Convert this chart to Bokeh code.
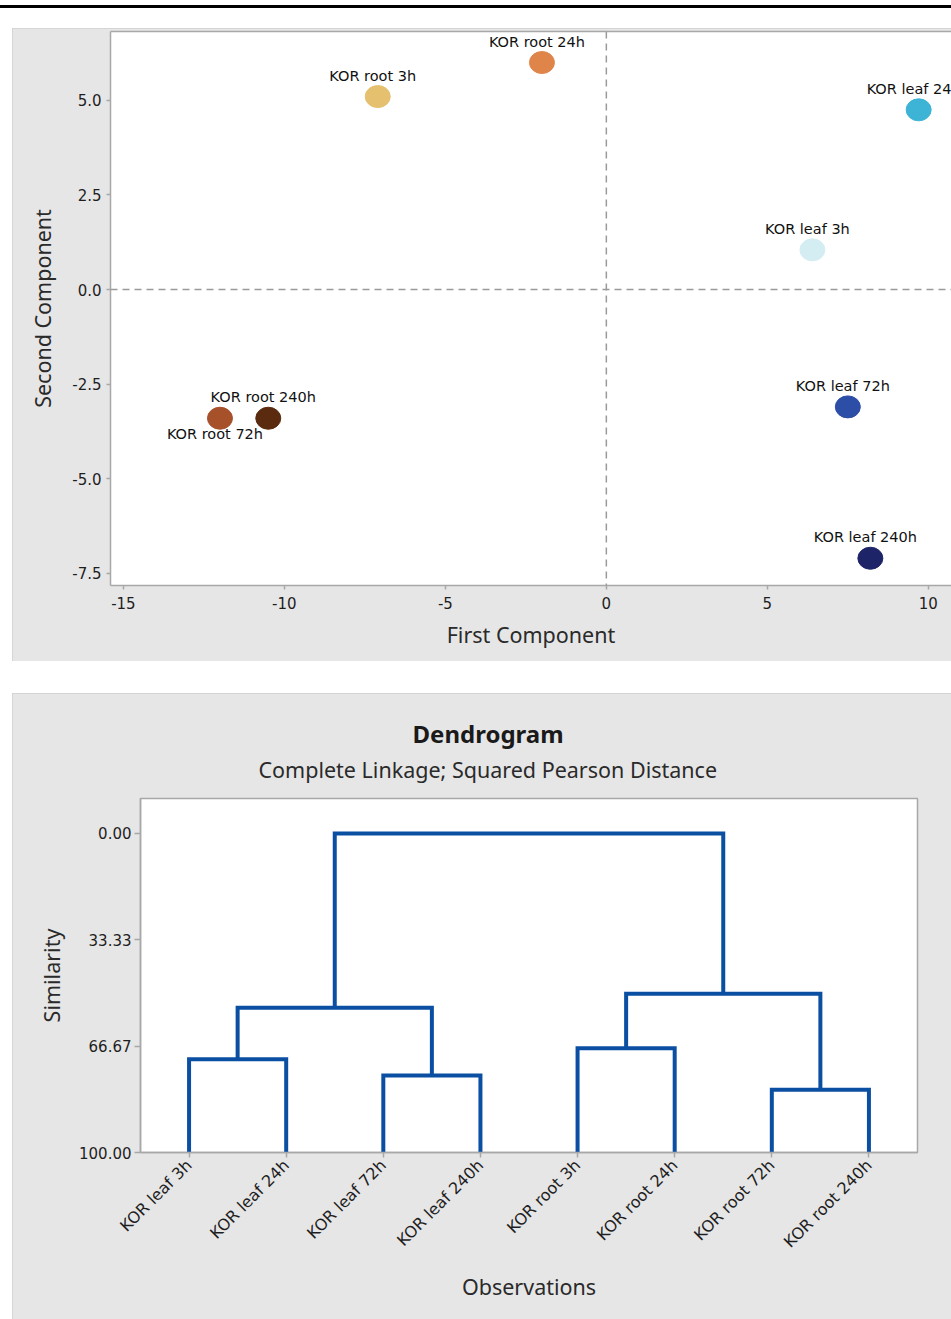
import math
from bokeh.plotting import figure
from bokeh.models import (ColumnDataSource, Span, FixedTicker, LinearAxis, Title,
                          Range1d, Div, Spacer, NumeralTickFormatter)
from bokeh.layouts import column, row
from bokeh.embed import file_html
from bokeh.resources import INLINE
from bokeh.core.properties import value

# ---------------- data: score plot ----------------
samples = ["KOR root 24h", "KOR root 3h", "KOR leaf 24h", "KOR leaf 3h",
           "KOR leaf 72h", "KOR leaf 240h", "KOR root 72h", "KOR root 240h"]
first_component = [-2.0, -7.1, 9.7, 6.4, 7.5, 8.2, -12.0, -10.5]
second_component = [6.0, 5.1, 4.75, 1.05, -3.1, -7.1, -3.4, -3.4]
sample_colors = ["#e0854a", "#e5c06e", "#3db3d6", "#d4edf3",
                 "#2d4ea6", "#1e2468", "#a6512a", "#5a2b0f"]
labels_below = ["KOR root 72h"]
x_ticks = [-15, -10, -5, 0, 5, 10]
y_ticks = [-7.5, -5.0, -2.5, 0.0, 2.5, 5.0]

# ---------------- data: dendrogram ----------------
observations = ["KOR leaf 3h", "KOR leaf 24h", "KOR leaf 72h", "KOR leaf 240h",
                "KOR root 3h", "KOR root 24h", "KOR root 72h", "KOR root 240h"]
merge_left = [0, 2, 4, 6, 8, 10, 12]
merge_right = [1, 3, 5, 7, 9, 11, 13]
merge_similarity = [70.8, 75.9, 67.3, 80.3, 54.6, 50.2, 0.0]
similarity_ticks = [0.0, 33.33, 66.67, 100.0]

PANEL = "#e6e6e6"
AX = "#a8a8a8"
TXT = "#1e1e1e"
TICKF = "DejaVu Sans"
LABF = "Noto Sans"


def style_axis(ax, tick_out=4, standoff=6, label_standoff=10, size="15px"):
    ax.axis_line_color = AX
    ax.axis_line_width = 1.5
    ax.major_tick_line_color = AX
    ax.major_tick_line_width = 1.5
    ax.major_tick_in = 0
    ax.major_tick_out = tick_out
    ax.minor_tick_line_color = None
    ax.major_label_standoff = standoff
    ax.major_label_text_font = TICKF
    ax.major_label_text_font_size = size
    ax.major_label_text_color = TXT
    ax.axis_label_standoff = label_standoff
    ax.axis_label_text_font = LABF
    ax.axis_label_text_font_size = "21.5px"
    ax.axis_label_text_font_style = "normal"
    ax.axis_label_text_color = "#2a2a2a"


# ================= score plot =================
p1 = figure(width=939, height=633,
            x_range=Range1d(-15.4, 10.72), y_range=Range1d(-7.82, 6.82),
            output_backend="svg", toolbar_location=None,
            background_fill_color="white", border_fill_color=PANEL,
            min_border_left=98, min_border_right=0, min_border_top=3, min_border_bottom=76,
            styles={"outline": "1px solid #cfcfcf", "outline-offset": "-1px"})
p1.frame_align = False
p1.outline_line_color = None
p1.grid.visible = False

style_axis(p1.xaxis[0], standoff=7, label_standoff=8)
style_axis(p1.yaxis[0], standoff=5, label_standoff=12)
p1.xaxis[0].ticker = FixedTicker(ticks=x_ticks)
p1.xaxis[0].formatter = NumeralTickFormatter(format="0")
p1.yaxis[0].ticker = FixedTicker(ticks=y_ticks)
p1.yaxis[0].formatter = NumeralTickFormatter(format="0.0")
p1.xaxis[0].axis_label = "First Component"
p1.yaxis[0].axis_label = "Second Component"

top_edge = LinearAxis(ticker=FixedTicker(ticks=[]), major_tick_out=0, major_tick_in=0,
                      minor_tick_out=0, minor_tick_in=0, major_label_standoff=0,
                      major_label_text_font_size="0px", axis_line_color=AX,
                      axis_line_width=1.5)
p1.add_layout(top_edge, "above")

p1.add_layout(Span(location=0, dimension="height", line_color="#9a9a9a",
                   line_dash="7 5", line_width=1.5))
p1.add_layout(Span(location=0, dimension="width", line_color="#9a9a9a",
                   line_dash="7 5", line_width=1.5))

pts = ColumnDataSource(dict(x=first_component, y=second_component, c=sample_colors, t=samples))
p1.ellipse("x", "y", source=pts, width=25, height=22, width_units="screen",
           height_units="screen", fill_color="c", line_color="c")

above_idx = [i for i, s in enumerate(samples) if s not in labels_below]
below_idx = [i for i, s in enumerate(samples) if s in labels_below]
for idx, yoff in ((above_idx, -21), (below_idx, 16)):
    src = ColumnDataSource(dict(x=[first_component[i] for i in idx],
                                y=[second_component[i] for i in idx],
                                t=[samples[i] for i in idx]))
    p1.text("x", "y", "t", source=src, text_align="center", text_baseline="middle",
            x_offset=-5, y_offset=yoff, text_font=value(TICKF),
            text_font_size="14.5px", text_color="#111111")

# ================= dendrogram =================
pos = {i: i + 1 for i in range(len(observations))}
hgt = {i: 100.0 for i in range(len(observations))}
xs, ys = [], []
for k, (a, b, s) in enumerate(zip(merge_left, merge_right, merge_similarity)):
    nid = len(observations) + k
    xs.append([pos[a], pos[a], pos[b], pos[b]])
    ys.append([hgt[a], s, s, hgt[b]])
    pos[nid] = (pos[a] + pos[b]) / 2
    hgt[nid] = s

p2 = figure(width=939, height=626,
            x_range=Range1d(0.5, 8.5), y_range=Range1d(100, -10.97),
            output_backend="svg", toolbar_location=None,
            background_fill_color="white", border_fill_color=PANEL,
            min_border_left=128, min_border_right=34, min_border_top=105, min_border_bottom=167,
            styles={"outline": "1px solid #cfcfcf", "outline-offset": "-1px"})
p2.frame_align = False
p2.outline_line_color = AX
p2.outline_line_width = 1.5
p2.grid.visible = False

p2.add_layout(Title(text=" ", text_font_size="2px", standoff=7), "above")
p2.add_layout(Title(text="Complete Linkage; Squared Pearson Distance", align="left",
                    offset=118, text_font=LABF, text_font_size="21.5px",
                    text_font_style="normal", text_color="#2a2a2a", standoff=8), "above")
p2.add_layout(Title(text="Dendrogram", align="left", offset=272, text_font=LABF,
                    text_font_size="24px", text_font_style="bold",
                    text_color="#1a1a1a", standoff=-2), "above")

style_axis(p2.xaxis[0], tick_out=5, standoff=5, label_standoff=11, size="16px")
style_axis(p2.yaxis[0], tick_out=6, standoff=3, label_standoff=10, size="15px")
p2.xaxis[0].ticker = FixedTicker(ticks=list(range(1, len(observations) + 1)))
p2.xaxis[0].major_label_overrides = {i + 1: n for i, n in enumerate(observations)}
p2.xaxis[0].major_label_orientation = math.pi / 4
p2.yaxis[0].ticker = FixedTicker(ticks=similarity_ticks)
p2.yaxis[0].formatter = NumeralTickFormatter(format="0.00")
p2.xaxis[0].axis_label = "Observations"
p2.yaxis[0].axis_label = "Similarity"

p2.multi_line(xs=xs, ys=ys, line_color="#0b4fa3", line_width=4, line_join="miter")

top_rule = Div(text="", width=951, height=3, margin=(5, 0, 20, 0),
               styles={"background-color": "#000000"})

layout = column(top_rule, row(Spacer(width=12), column(p1, Spacer(height=32), p2)))

open("out.html", "w").write(file_html(layout, INLINE))
